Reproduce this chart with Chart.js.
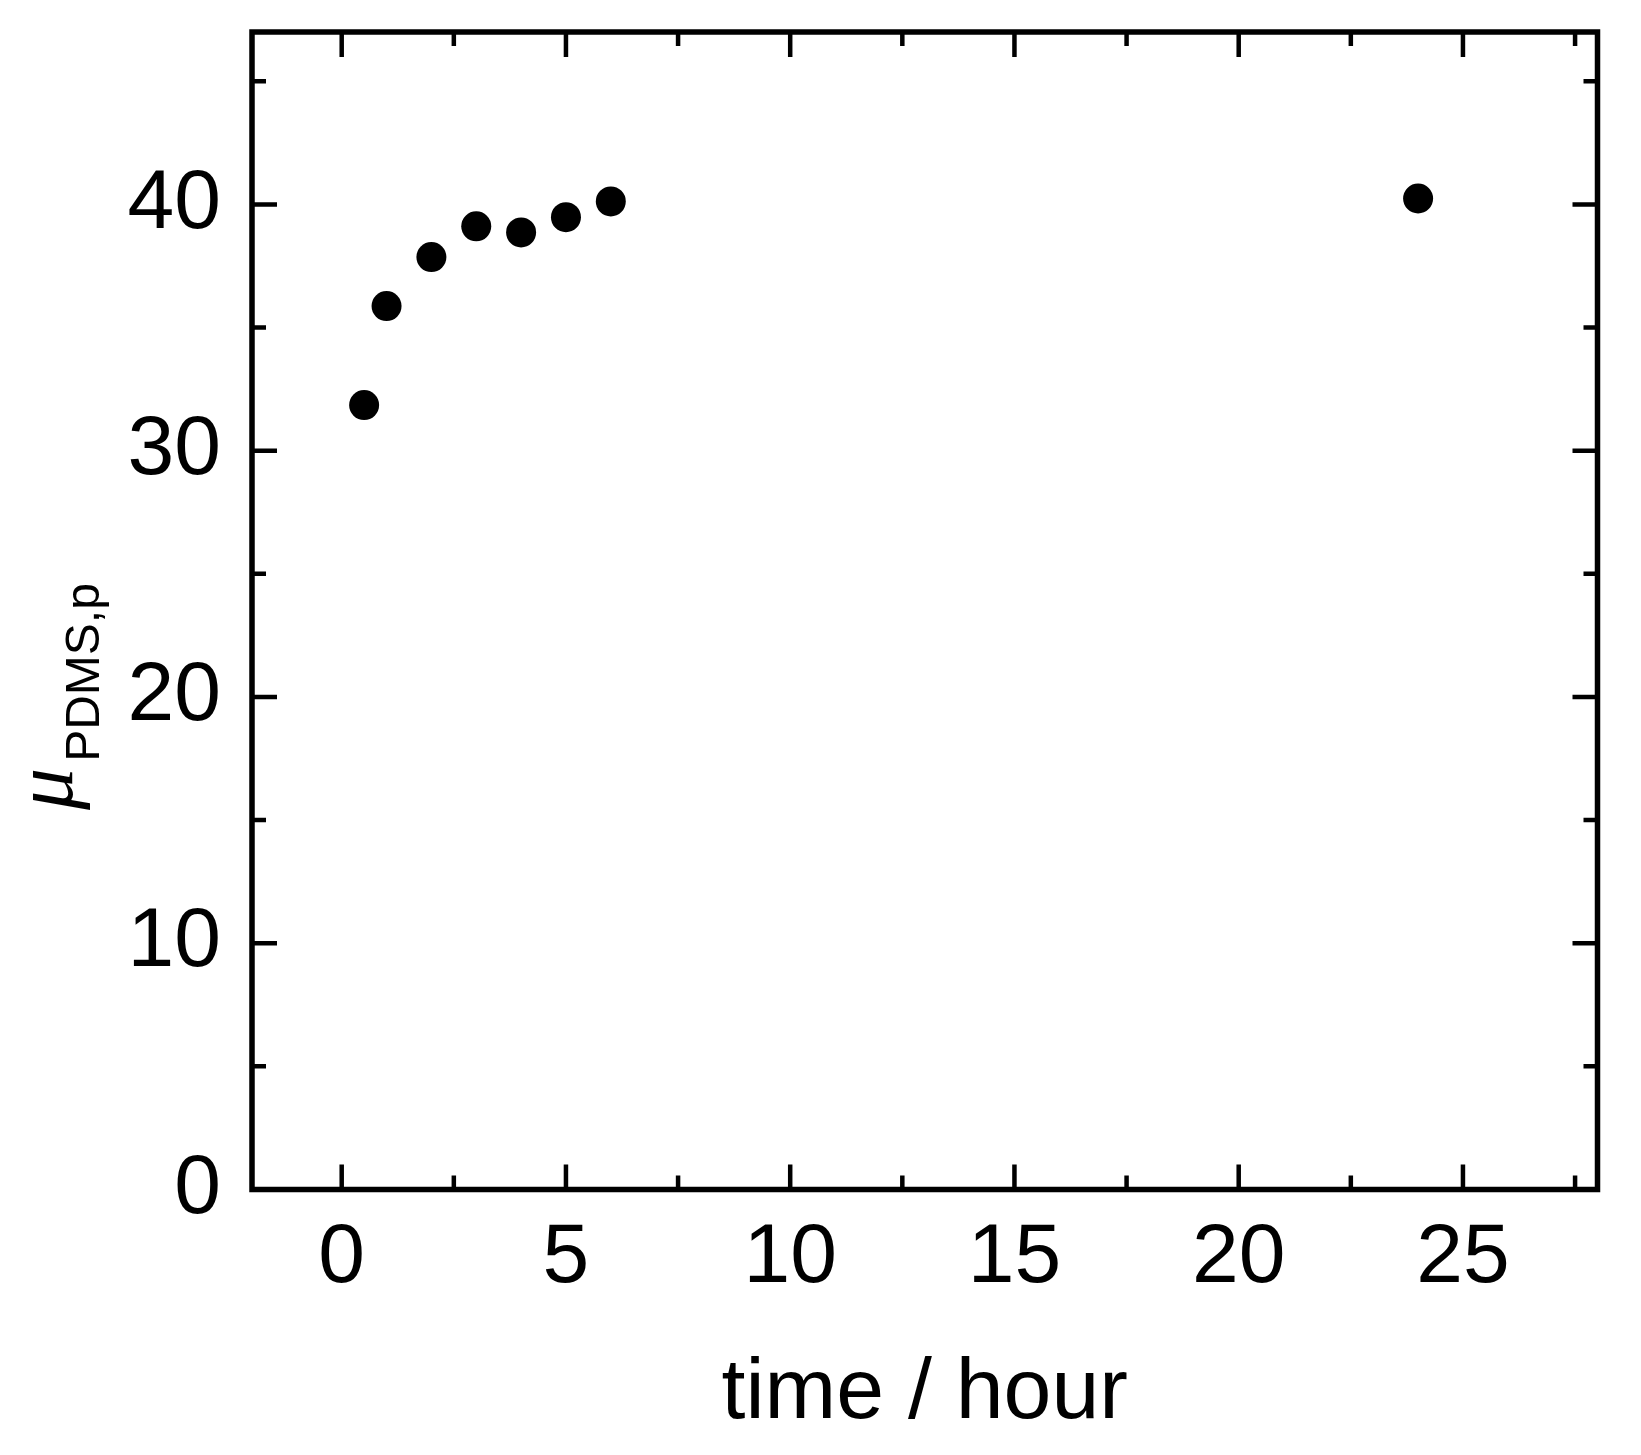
<!DOCTYPE html>
<html lang="en">
<head>
<meta charset="UTF-8">
<title>mu PDMS,p vs time</title>
<script src="https://cdn.jsdelivr.net/npm/chart.js"></script>
<style>
    html, body { margin: 0; padding: 0; background: #fff; }
    canvas { display: block; }
</style>
</head>
<body>
<canvas id="chart" width="1641" height="1455"></canvas>
<script>
    // data
    const timeHours = [0.5, 1, 2, 3, 4, 5, 6, 24];
    const muValues = [31.85, 35.87, 37.86, 39.11, 38.86, 39.48, 40.12, 40.24];

    const xMajorTicks = [0, 5, 10, 15, 20, 25];
    const xMinorTicks = [2.5, 7.5, 12.5, 17.5, 22.5, 27.5];
    const yMajorTicks = [0, 10, 20, 30, 40];
    const yMinorTicks = [5, 15, 25, 35, 45];

    const xTitle = 'time / hour';
    const yTitleMain = 'μ';
    const yTitleSub = 'PDMS,p';

    const sans = '"Liberation Sans", Arial, sans-serif';

    // frame + inward ticks on all four sides
    const framePlugin = {
        id: 'frame',
        afterDatasetsDraw(chart) {
            const ctx = chart.ctx;
            const a = chart.chartArea;
            const xs = chart.scales.x;
            const ys = chart.scales.y;
            ctx.save();
            ctx.strokeStyle = '#000';
            ctx.lineWidth = 4.5;
            const xTick = (v, len) => {
                const px = xs.getPixelForValue(v);
                ctx.beginPath();
                ctx.moveTo(px, a.bottom); ctx.lineTo(px, a.bottom - len);
                ctx.moveTo(px, a.top); ctx.lineTo(px, a.top + len);
                ctx.stroke();
            };
            const yTick = (v, len) => {
                const py = ys.getPixelForValue(v);
                ctx.beginPath();
                ctx.moveTo(a.left, py); ctx.lineTo(a.left + len, py);
                ctx.moveTo(a.right, py); ctx.lineTo(a.right - len, py);
                ctx.stroke();
            };
            xMajorTicks.forEach(v => xTick(v, 25));
            xMinorTicks.forEach(v => xTick(v, 14));
            yMajorTicks.forEach(v => yTick(v, 25));
            yMinorTicks.forEach(v => yTick(v, 14));
            ctx.lineWidth = 5.5;
            ctx.strokeRect(a.left, a.top, a.right - a.left, a.bottom - a.top);
            ctx.restore();
        }
    };

    // y title: italic mu with a sans subscript, rotated
    const yTitlePlugin = {
        id: 'yTitle',
        afterDraw(chart) {
            const ctx = chart.ctx;
            ctx.save();
            ctx.translate(72, 810);
            ctx.rotate(-Math.PI / 2);
            ctx.fillStyle = '#000';
            ctx.textBaseline = 'alphabetic';
            ctx.textAlign = 'left';
            ctx.font = 'italic 84px "Liberation Serif", "Times New Roman", serif';
            ctx.fillText(yTitleMain, 0, 0);
            const w = ctx.measureText(yTitleMain).width;
            ctx.font = '48px ' + sans;
            ctx.fillText(yTitleSub, w + 6, 27);
            ctx.restore();
        }
    };

    new Chart(document.getElementById('chart'), {
        type: 'scatter',
        data: {
            datasets: [{
                data: timeHours.map((t, i) => ({ x: t, y: muValues[i] })),
                backgroundColor: '#000',
                borderWidth: 0,
                pointRadius: 15,
                pointHoverRadius: 15
            }]
        },
        options: {
            responsive: false,
            animation: false,
            layout: { padding: { left: 0, top: 32, right: 43.5, bottom: 0 } },
            plugins: {
                legend: { display: false },
                tooltip: { enabled: false }
            },
            scales: {
                x: {
                    type: 'linear',
                    min: -2,
                    max: 28,
                    afterBuildTicks: s => { s.ticks = xMajorTicks.map(v => ({ value: v })); },
                    afterFit: s => { s.height = 265.5; s.paddingLeft = 0; s.paddingRight = 0; },
                    grid: { display: false, drawTicks: false },
                    border: { display: false },
                    ticks: {
                        color: '#000',
                        font: { family: sans, size: 84 },
                        padding: 19,
                        maxRotation: 0,
                        callback: v => String(v)
                    },
                    title: {
                        display: true,
                        text: xTitle,
                        color: '#000',
                        font: { family: sans, size: 86 },
                        padding: { top: 0, bottom: 9 }
                    }
                },
                y: {
                    type: 'linear',
                    min: 0,
                    max: 47,
                    afterBuildTicks: s => { s.ticks = yMajorTicks.map(v => ({ value: v })); },
                    afterFit: s => { s.width = 252; s.paddingTop = 0; s.paddingBottom = 0; },
                    grid: { display: false, drawTicks: false },
                    border: { display: false },
                    ticks: {
                        color: '#000',
                        font: { family: sans, size: 84 },
                        padding: 31,
                        callback: v => String(v)
                    }
                }
            }
        },
        plugins: [framePlugin, yTitlePlugin]
    });
</script>
</body>
</html>
